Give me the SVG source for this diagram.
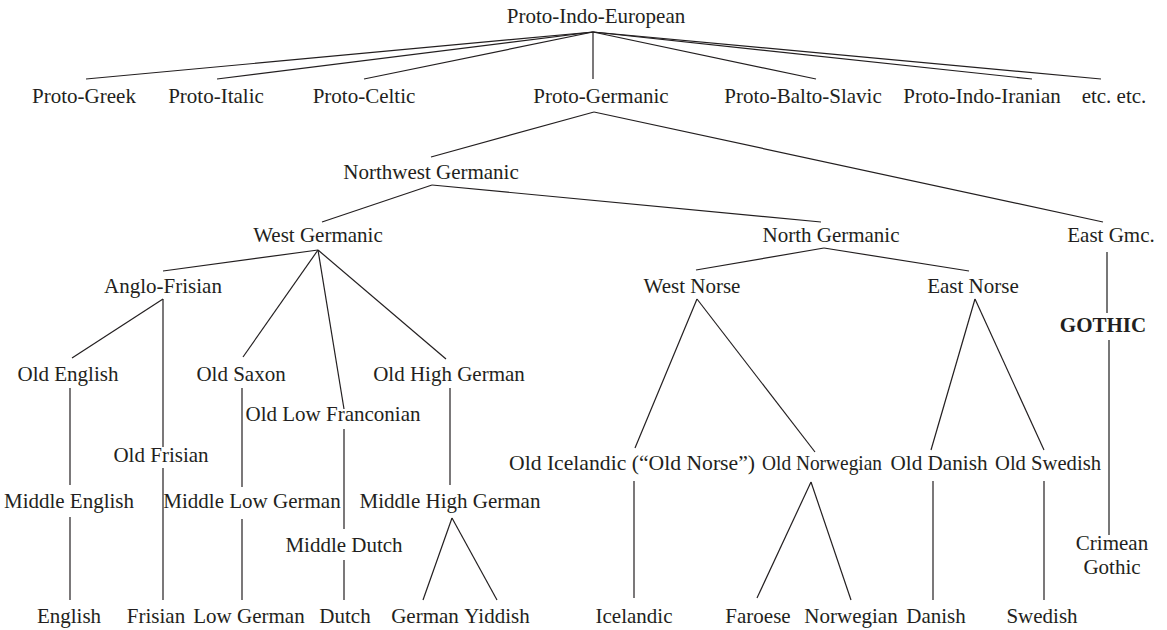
<svg xmlns="http://www.w3.org/2000/svg" width="1167" height="630" viewBox="0 0 1167 630">
<style>
text{font-family:"Liberation Serif","Times New Roman",serif;font-size:21px;fill:#231f20;text-anchor:middle}
.b{font-weight:bold}
#connectors line{stroke:#231f20;stroke-width:1.2;fill:none}
#connectors line.g{stroke:#555;stroke-width:1.6}
</style>
<rect width="1167" height="630" fill="#fff"/>
<g id="connectors">
<line x1="593" y1="32" x2="86" y2="79"/>
<line x1="593" y1="32" x2="217" y2="79"/>
<line x1="593" y1="32" x2="364" y2="79"/>
<line x1="593" y1="32" x2="593" y2="79"/>
<line x1="593" y1="32" x2="816" y2="79"/>
<line x1="593" y1="32" x2="1032" y2="79"/>
<line x1="593" y1="32" x2="1101" y2="79"/>
<line x1="594" y1="112" x2="431" y2="157"/>
<line x1="594" y1="112" x2="1103" y2="222"/>
<line x1="432" y1="185" x2="322" y2="222"/>
<line x1="432" y1="185" x2="821" y2="222"/>
<line x1="318" y1="250" x2="163" y2="271"/>
<line x1="318" y1="250" x2="243" y2="357"/>
<line x1="318" y1="250" x2="344" y2="409"/>
<line x1="318" y1="250" x2="446" y2="359"/>
<line x1="163" y1="299" x2="72" y2="358"/>
<line x1="163" y1="299" x2="163" y2="447"/>
<line x1="70" y1="388" x2="70" y2="485"/>
<line x1="70" y1="517" x2="70" y2="600"/>
<line x1="163" y1="468" x2="163" y2="600"/>
<line x1="242" y1="388" x2="242" y2="487"/>
<line x1="242" y1="519" x2="242" y2="600"/>
<line x1="344" y1="429" x2="344" y2="529"/>
<line x1="344" y1="560" x2="344" y2="600"/>
<line x1="450" y1="388" x2="450" y2="485"/>
<line x1="452" y1="518" x2="423" y2="600"/>
<line x1="452" y1="518" x2="497" y2="600"/>
<line x1="824" y1="248" x2="696" y2="270"/>
<line x1="824" y1="248" x2="969" y2="271"/>
<line x1="697" y1="299" x2="635" y2="448"/>
<line x1="697" y1="299" x2="815" y2="452"/>
<line x1="634" y1="481" x2="634" y2="598"/>
<line x1="811" y1="482" x2="757" y2="598"/>
<line x1="811" y1="482" x2="851" y2="600"/>
<line x1="975" y1="299" x2="931" y2="450"/>
<line x1="975" y1="299" x2="1044" y2="450"/>
<line x1="933" y1="481" x2="933" y2="600"/>
<line x1="1044" y1="481" x2="1044" y2="600"/>
<line class="g" x1="1107" y1="252" x2="1107" y2="313"/>
<line class="g" x1="1109" y1="340" x2="1109" y2="535"/>
</g>
<g id="n-pie"><text x="596" y="23">Proto-Indo-European</text></g>
<g id="n-greek"><text x="84" y="103">Proto-Greek</text></g>
<g id="n-italic"><text x="216" y="103">Proto-Italic</text></g>
<g id="n-celtic"><text x="364" y="103">Proto-Celtic</text></g>
<g id="n-germanic"><text x="601" y="103">Proto-Germanic</text></g>
<g id="n-baltoslavic"><text x="803" y="103">Proto-Balto-Slavic</text></g>
<g id="n-indoiranian"><text x="982" y="103">Proto-Indo-Iranian</text></g>
<g id="n-etc"><text x="1114" y="103">etc. etc.</text></g>
<g id="n-nwgmc"><text x="431" y="179">Northwest Germanic</text></g>
<g id="n-wgmc"><text x="318" y="242">West Germanic</text></g>
<g id="n-ngmc"><text x="831" y="242">North Germanic</text></g>
<g id="n-egmc"><text x="1111" y="242">East Gmc.</text></g>
<g id="n-anglofrisian"><text x="163" y="293">Anglo-Frisian</text></g>
<g id="n-westnorse"><text x="692" y="293">West Norse</text></g>
<g id="n-eastnorse"><text x="973" y="293">East Norse</text></g>
<g id="n-gothic"><text class="b" x="1103" y="332">GOTHIC</text></g>
<g id="n-oldenglish"><text x="68" y="381">Old English</text></g>
<g id="n-oldsaxon"><text x="241" y="381">Old Saxon</text></g>
<g id="n-ohg"><text x="449" y="381">Old High German</text></g>
<g id="n-olf"><text x="333" y="421">Old Low Franconian</text></g>
<g id="n-oldfrisian"><text x="161" y="462">Old Frisian</text></g>
<g id="n-oldicelandic"><text x="632" y="470" textLength="246" lengthAdjust="spacingAndGlyphs">Old Icelandic (“Old Norse”)</text></g>
<g id="n-oldnorwegian"><text x="822" y="470" textLength="120" lengthAdjust="spacingAndGlyphs">Old Norwegian</text></g>
<g id="n-olddanish"><text x="939" y="470" textLength="97" lengthAdjust="spacingAndGlyphs">Old Danish</text></g>
<g id="n-oldswedish"><text x="1048" y="470" textLength="106" lengthAdjust="spacingAndGlyphs">Old Swedish</text></g>
<g id="n-me"><text x="69" y="508">Middle English</text></g>
<g id="n-mlg"><text x="252" y="508">Middle Low German</text></g>
<g id="n-mhg"><text x="450" y="508">Middle High German</text></g>
<g id="n-md"><text x="344" y="552">Middle Dutch</text></g>
<g id="n-crimean"><text x="1112" y="550">Crimean</text><text x="1112" y="574">Gothic</text></g>
<g id="n-english"><text x="69" y="623">English</text></g>
<g id="n-frisian"><text x="156" y="623">Frisian</text></g>
<g id="n-lowgerman"><text x="249" y="623">Low German</text></g>
<g id="n-dutch"><text x="345" y="623">Dutch</text></g>
<g id="n-german"><text x="425" y="623">German</text></g>
<g id="n-yiddish"><text x="497" y="623">Yiddish</text></g>
<g id="n-icelandic"><text x="634" y="623">Icelandic</text></g>
<g id="n-faroese"><text x="758" y="623">Faroese</text></g>
<g id="n-norwegian"><text x="851" y="623">Norwegian</text></g>
<g id="n-danish"><text x="936" y="623">Danish</text></g>
<g id="n-swedish"><text x="1042" y="623">Swedish</text></g>
</svg>
